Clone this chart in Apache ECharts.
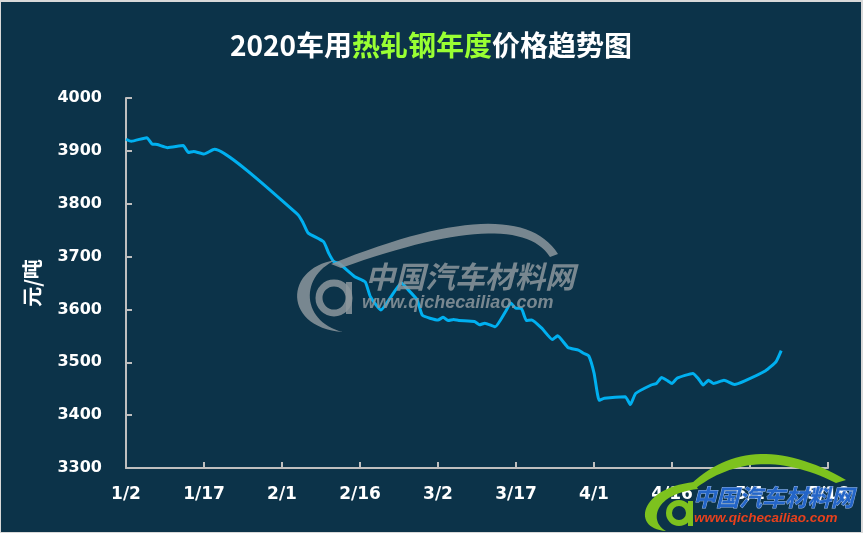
<!DOCTYPE html>
<html>
<head>
<meta charset="utf-8">
<script src="https://cdn.jsdelivr.net/npm/echarts@6/dist/echarts.min.js"></script>
<style>
html,body{margin:0;padding:0;background:#d9d9d9;}
#c{position:absolute;left:1px;top:2px;width:860px;height:530px;background:#0c3349;}
</style>
</head>
<body>
<div id="c"></div>
<script>
var tickLabels = ['1/2','1/17','2/1','2/16','3/2','3/17','4/1','4/16','5/1','5/16'];
var dates = ['1/2','1/3','1/6','1/7','1/8','1/10','1/13','1/14','1/15','1/17','1/19',
  '2/4','2/5','2/6','2/9','2/10','2/11','2/12','2/15','2/17','2/18','2/20','2/24','2/25','2/27','2/28',
  '3/2','3/3','3/4','3/5','3/6','3/9','3/10','3/11','3/13','3/15','3/16','3/17','3/18','3/19','3/20','3/22','3/24','3/25','3/27','3/29','3/30','3/31',
  '4/1','4/2','4/3','4/7','4/8','4/9','4/12','4/13','4/14','4/15','4/16','4/17','4/20','4/21','4/22','4/23','4/24','4/26','4/28','4/30',
  '5/4','5/6','5/7'];
var prices = [3922,3918,3925,3913,3912,3906,3910,3897,3899,3894,3903,
  3780,3765,3745,3728,3706,3690,3687,3662,3652,3624,3599,3650,3640,3618,3589,
  3580,3585,3579,3581,3579,3577,3571,3574,3567,3596,3612,3602,3602,3579,3580,3564,3543,3550,3528,3523,3517,3512,
  3480,3428,3432,3435,3420,3441,3457,3460,3471,3466,3460,3470,3479,3470,3457,3466,3460,3466,3458,3465,
  3484,3501,3522];

function dayIndex(s){
  var p = s.split('/');
  return Math.round((Date.UTC(2020, +p[0]-1, +p[1]) - Date.UTC(2020,0,2)) / 86400000);
}
var seriesData = dates.map(function(d,i){ return [dayIndex(d), prices[i]]; });

// decorative watermark helpers (sampled bezier outlines)
function quad(p0, c, p1, n){
  var pts = [];
  for (var i = 0; i <= n; i++){
    var t = i / n, u = 1 - t;
    pts.push([u*u*p0[0] + 2*u*t*c[0] + t*t*p1[0], u*u*p0[1] + 2*u*t*c[1] + t*t*p1[1]]);
  }
  return pts;
}
function cubic(p0, c1, c2, p1, n){
  var pts = [];
  for (var i = 0; i <= n; i++){
    var t = i / n, u = 1 - t;
    pts.push([u*u*u*p0[0] + 3*u*u*t*c1[0] + 3*u*t*t*c2[0] + t*t*t*p1[0],
              u*u*u*p0[1] + 3*u*u*t*c1[1] + 3*u*t*t*c2[1] + t*t*t*p1[1]]);
  }
  return pts;
}
var roof1 = quad([330,262],[516,187],[557,252],30).concat(quad([549,255],[516,203],[340,266],30));
var c1 = cubic([335,258],[282,266],[282,326],[342,330],30).concat(cubic([342,330],[300,320],[298,274],[335,258],30));
var roof2 = quad([690,482],[752,424],[845,478],30).concat(quad([835,481],[755,441],[695,486],30));
var c2 = cubic([693,480],[638,486],[630,527],[665,529],30).concat(cubic([665,529],[648,520],[652,492],[697,487],30));

var chart = echarts.init(document.getElementById('c'));
var gray = 'rgba(140,150,156,0.85)';
var green = '#7dc21e';
chart.setOption({
  backgroundColor: '#0c3349',
  animation: false,
  title: {
    left: 'center', top: 24,
    text: '{w|2020车用}{g|热轧钢年度}{w|价格趋势图}',
    textStyle: {
      rich: {
        w: {color:'#ffffff', fontSize:28, fontWeight:'bold', fontFamily:'Noto Sans CJK SC'},
        g: {color:'#99ff33', fontSize:28, fontWeight:'bold', fontFamily:'Noto Sans CJK SC'}
      }
    }
  },
  grid: {left:125, right:33, top:96, bottom:64},
  xAxis: {
    type:'value', min:0, max:135, interval:15,
    axisLine:{show:true, lineStyle:{color:'#bfbfbf', width:2}},
    axisTick:{show:true, inside:true, length:6, lineStyle:{color:'#bfbfbf', width:2}},
    splitLine:{show:false},
    axisLabel:{color:'#ffffff', fontSize:17, fontWeight:'bold', fontFamily:'DejaVu Sans', margin:18,
      formatter:function(v){ return tickLabels[Math.round(v/15)]; }}
  },
  yAxis: {
    type:'value', min:3300, max:4000, interval:100,
    name:'元/吨', nameLocation:'middle', nameGap:84, nameRotate:90,
    nameTextStyle:{color:'#ffffff', fontSize:20, fontWeight:'bold', fontFamily:'Noto Sans CJK SC'},
    axisLine:{show:true, lineStyle:{color:'#bfbfbf', width:2}},
    axisTick:{show:true, inside:true, length:6, lineStyle:{color:'#bfbfbf', width:2}},
    splitLine:{show:false},
    axisLabel:{color:'#ffffff', fontSize:16, fontWeight:'bold', fontFamily:'DejaVu Sans', margin:24,
      formatter:function(v){ return String(v); }}
  },
  series: [{
    type:'line', data: seriesData, smooth:0.15, showSymbol:false, symbol:'none',
    lineStyle:{color:'#00b0f0', width:3}
  }],
  graphic: [
    {type:'polygon', z:100, shape:{points:roof1}, style:{fill:gray}},
    {type:'polygon', z:100, shape:{points:c1}, style:{fill:gray}},
    {type:'circle', z:100, shape:{cx:333, cy:296, r:15}, style:{fill:'none', stroke:gray, lineWidth:7}},
    {type:'rect', z:100, shape:{x:345, y:280, width:6, height:32}, style:{fill:gray}},
    {type:'text', z:100, x:364, y:260, style:{text:'中国汽车材料网', fill:gray, font:'italic bold 30px "Noto Sans CJK SC"'}},
    {type:'text', z:100, x:361, y:292, style:{text:'www.qichecailiao.com', fill:gray, font:'italic bold 18px "Liberation Sans"'}},

    {type:'polygon', z:101, shape:{points:roof2}, style:{fill:green}},
    {type:'polygon', z:101, shape:{points:c2}, style:{fill:green}},
    {type:'circle', z:101, shape:{cx:678, cy:511, r:10}, style:{fill:'none', stroke:green, lineWidth:6}},
    {type:'rect', z:101, shape:{x:687, y:499, width:5, height:25}, style:{fill:green}},
    {type:'text', z:101, x:692, y:484, style:{text:'中国汽车材料网', fill:'#2365c8', stroke:'#9ab8e6', lineWidth:1, font:'italic bold 23px "Noto Sans CJK SC"'}},
    {type:'text', z:101, x:693, y:509, style:{text:'www.qichecailiao.com', fill:'#e8401c', font:'italic bold 13.5px "Liberation Sans"'}}
  ]
});
</script>
</body>
</html>
